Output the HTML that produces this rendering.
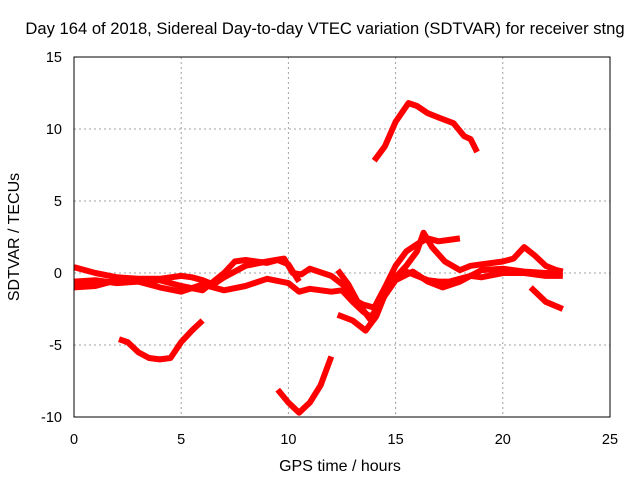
<!DOCTYPE html>
<html><head><meta charset="utf-8"><style>
body{margin:0;background:#fff}
svg{display:block;font-family:"Liberation Sans",sans-serif}
</style></head><body>
<svg id="chart" width="640" height="480">
<text x="325" y="34" text-anchor="middle" font-size="16.6">Day 164 of 2018, Sidereal Day-to-day VTEC variation (SDTVAR) for receiver stng</text>
<text x="340" y="471" text-anchor="middle" font-size="16">GPS time / hours</text>
<text transform="translate(19,237) rotate(-90)" text-anchor="middle" font-size="16">SDTVAR / TECUs</text>
<g id="grid"></g><g id="ticks"></g><g id="series"></g>
<rect x="74" y="57" width="536" height="360" fill="none" stroke="#000" stroke-width="1"/>
</svg>
<script>
const xTicks=[0,5,10,15,20,25];
const yTicks=[-10,-5,0,5,10,15];
const seriesA=[[14,7.8],[14.5,8.8],[15,10.5],[15.6,11.8],[16,11.6],[16.5,11.1],[17,10.8],[17.7,10.4],[18.2,9.5],[18.5,9.3],[18.8,8.4]];
const seriesB=[[9.5,-8.1],[10,-9],[10.5,-9.7],[11,-9],[11.5,-7.8],[12,-5.8]];
const seriesC=[[2.1,-4.6],[2.5,-4.8],[3,-5.5],[3.5,-5.9],[4,-6],[4.5,-5.9],[5,-4.8],[5.5,-4],[6,-3.3]];
const seriesD=[[0,0.4],[1,0],[2,-0.3],[3,-0.4],[4,-0.4],[5,-0.2],[5.5,-0.3],[6,-0.5],[6.5,-0.8],[7,-0.3],[8,0.5],[9,0.8],[9.8,1],[10.2,0],[10.6,-0.1],[11,0.3],[12,-0.2],[12.7,-1],[13,-1.8],[13.5,-2.2],[14,-2.4],[14.5,-1],[15,0.5],[15.5,1.5],[16,2],[16.5,2.4],[17,2.2],[17.5,2.3],[18,2.4]];
const seriesE=[[0,-0.6],[1,-0.5],[2,-0.7],[3,-0.6],[4,-0.5],[5,-0.9],[6,-1.2],[6.5,-0.6],[7,0],[7.5,0.8],[8,0.9],[8.5,0.8],[9,0.7],[9.5,0.9],[10,0.6],[10.5,-0.6]];
const seriesF=[[0,-1],[1,-0.9],[2,-0.5],[3,-0.6],[4,-1],[5,-1.3],[6,-0.8],[7,-1.2],[8,-0.9],[9,-0.4],[10,-0.7],[10.5,-1.3],[11,-1.1],[12,-1.3],[12.5,-1.2],[13,-2],[13.5,-2.7],[14,-3.2],[14.5,-1.5],[15,-0.3],[15.5,0.1],[16,-0.2],[16.5,-0.5],[17,-0.6],[17.5,-0.6],[18,-0.4],[18.5,-0.2],[19,-0.3],[20,0],[21,0],[22,-0.2],[22.8,-0.2]];
const seriesG=[[12.3,-2.9],[13,-3.3],[13.6,-4],[14.1,-3],[14.5,-1.5],[15,-0.3],[15.5,0.5],[16,1.5],[16.3,2.8],[16.7,1.8],[17.3,0.8],[18,0.2],[18.5,0.5],[19,0.6],[20,0.8],[20.5,1],[21,1.8],[21.5,1.2],[22,0.5],[22.5,0.2],[22.8,0.1]];
const seriesH=[[12.3,0.2],[12.8,-0.8],[13.3,-2.2],[13.8,-3.2],[14.3,-2],[15,-0.5],[15.8,0.1],[16.5,-0.6],[17.2,-1],[18,-0.6],[19,0.2],[20,0.3],[21,0.1],[22,0],[22.8,0]];
const seriesI=[[21.3,-1],[22,-2],[22.8,-2.5]];
const allSeries=[seriesA,seriesB,seriesC,seriesD,seriesE,seriesF,seriesG,seriesH,seriesI];
const NS='http://www.w3.org/2000/svg';
const X0=74,X1=610,Y0=417,Y1=57;
function xs(v){return X0+(v-0)/(25-0)*(X1-X0);}
function ys(v){return Y0-(v+10)/(15+10)*(Y0-Y1);}
const grid=document.getElementById('grid'),ticks=document.getElementById('ticks'),ser=document.getElementById('series');
xTicks.forEach(t=>{
 const x=xs(t);
 if(t>0&&t<25){const g=document.createElementNS(NS,'line');g.setAttribute('x1',x);g.setAttribute('x2',x);g.setAttribute('y1',Y1);g.setAttribute('y2',Y0);g.setAttribute('stroke','#a0a0a0');g.setAttribute('stroke-dasharray','2,3');
 
 
 grid.appendChild(g);}
 const tx=document.createElementNS(NS,'text');tx.setAttribute('x',x);tx.setAttribute('y',Y0+27);tx.setAttribute('text-anchor','middle');tx.setAttribute('font-size','14.5');tx.textContent=t;
 
 
 ticks.appendChild(tx);
});
yTicks.forEach(t=>{
 const y=ys(t);
 if(t>-10&&t<15){const g=document.createElementNS(NS,'line');g.setAttribute('x1',X0);g.setAttribute('x2',X1);g.setAttribute('y1',y);g.setAttribute('y2',y);g.setAttribute('stroke','#a0a0a0');g.setAttribute('stroke-dasharray','2,3');
 
 
 grid.appendChild(g);}
 const tx=document.createElementNS(NS,'text');tx.setAttribute('x',X0-12);tx.setAttribute('y',y+5);tx.setAttribute('text-anchor','end');tx.setAttribute('font-size','14.5');tx.textContent=t;
 
 
 ticks.appendChild(tx);
});
allSeries.forEach((s,i)=>{
 const p=document.createElementNS(NS,'polyline');
 p.setAttribute('points',s.map(d=>xs(d[0]).toFixed(1)+','+ys(d[1]).toFixed(1)).join(' '));
 p.setAttribute('fill','none');p.setAttribute('stroke','#ff0000');p.setAttribute('stroke-width','6');p.setAttribute('stroke-linejoin','round');
 
 
 ser.appendChild(p);
});
</script>
</body></html>
